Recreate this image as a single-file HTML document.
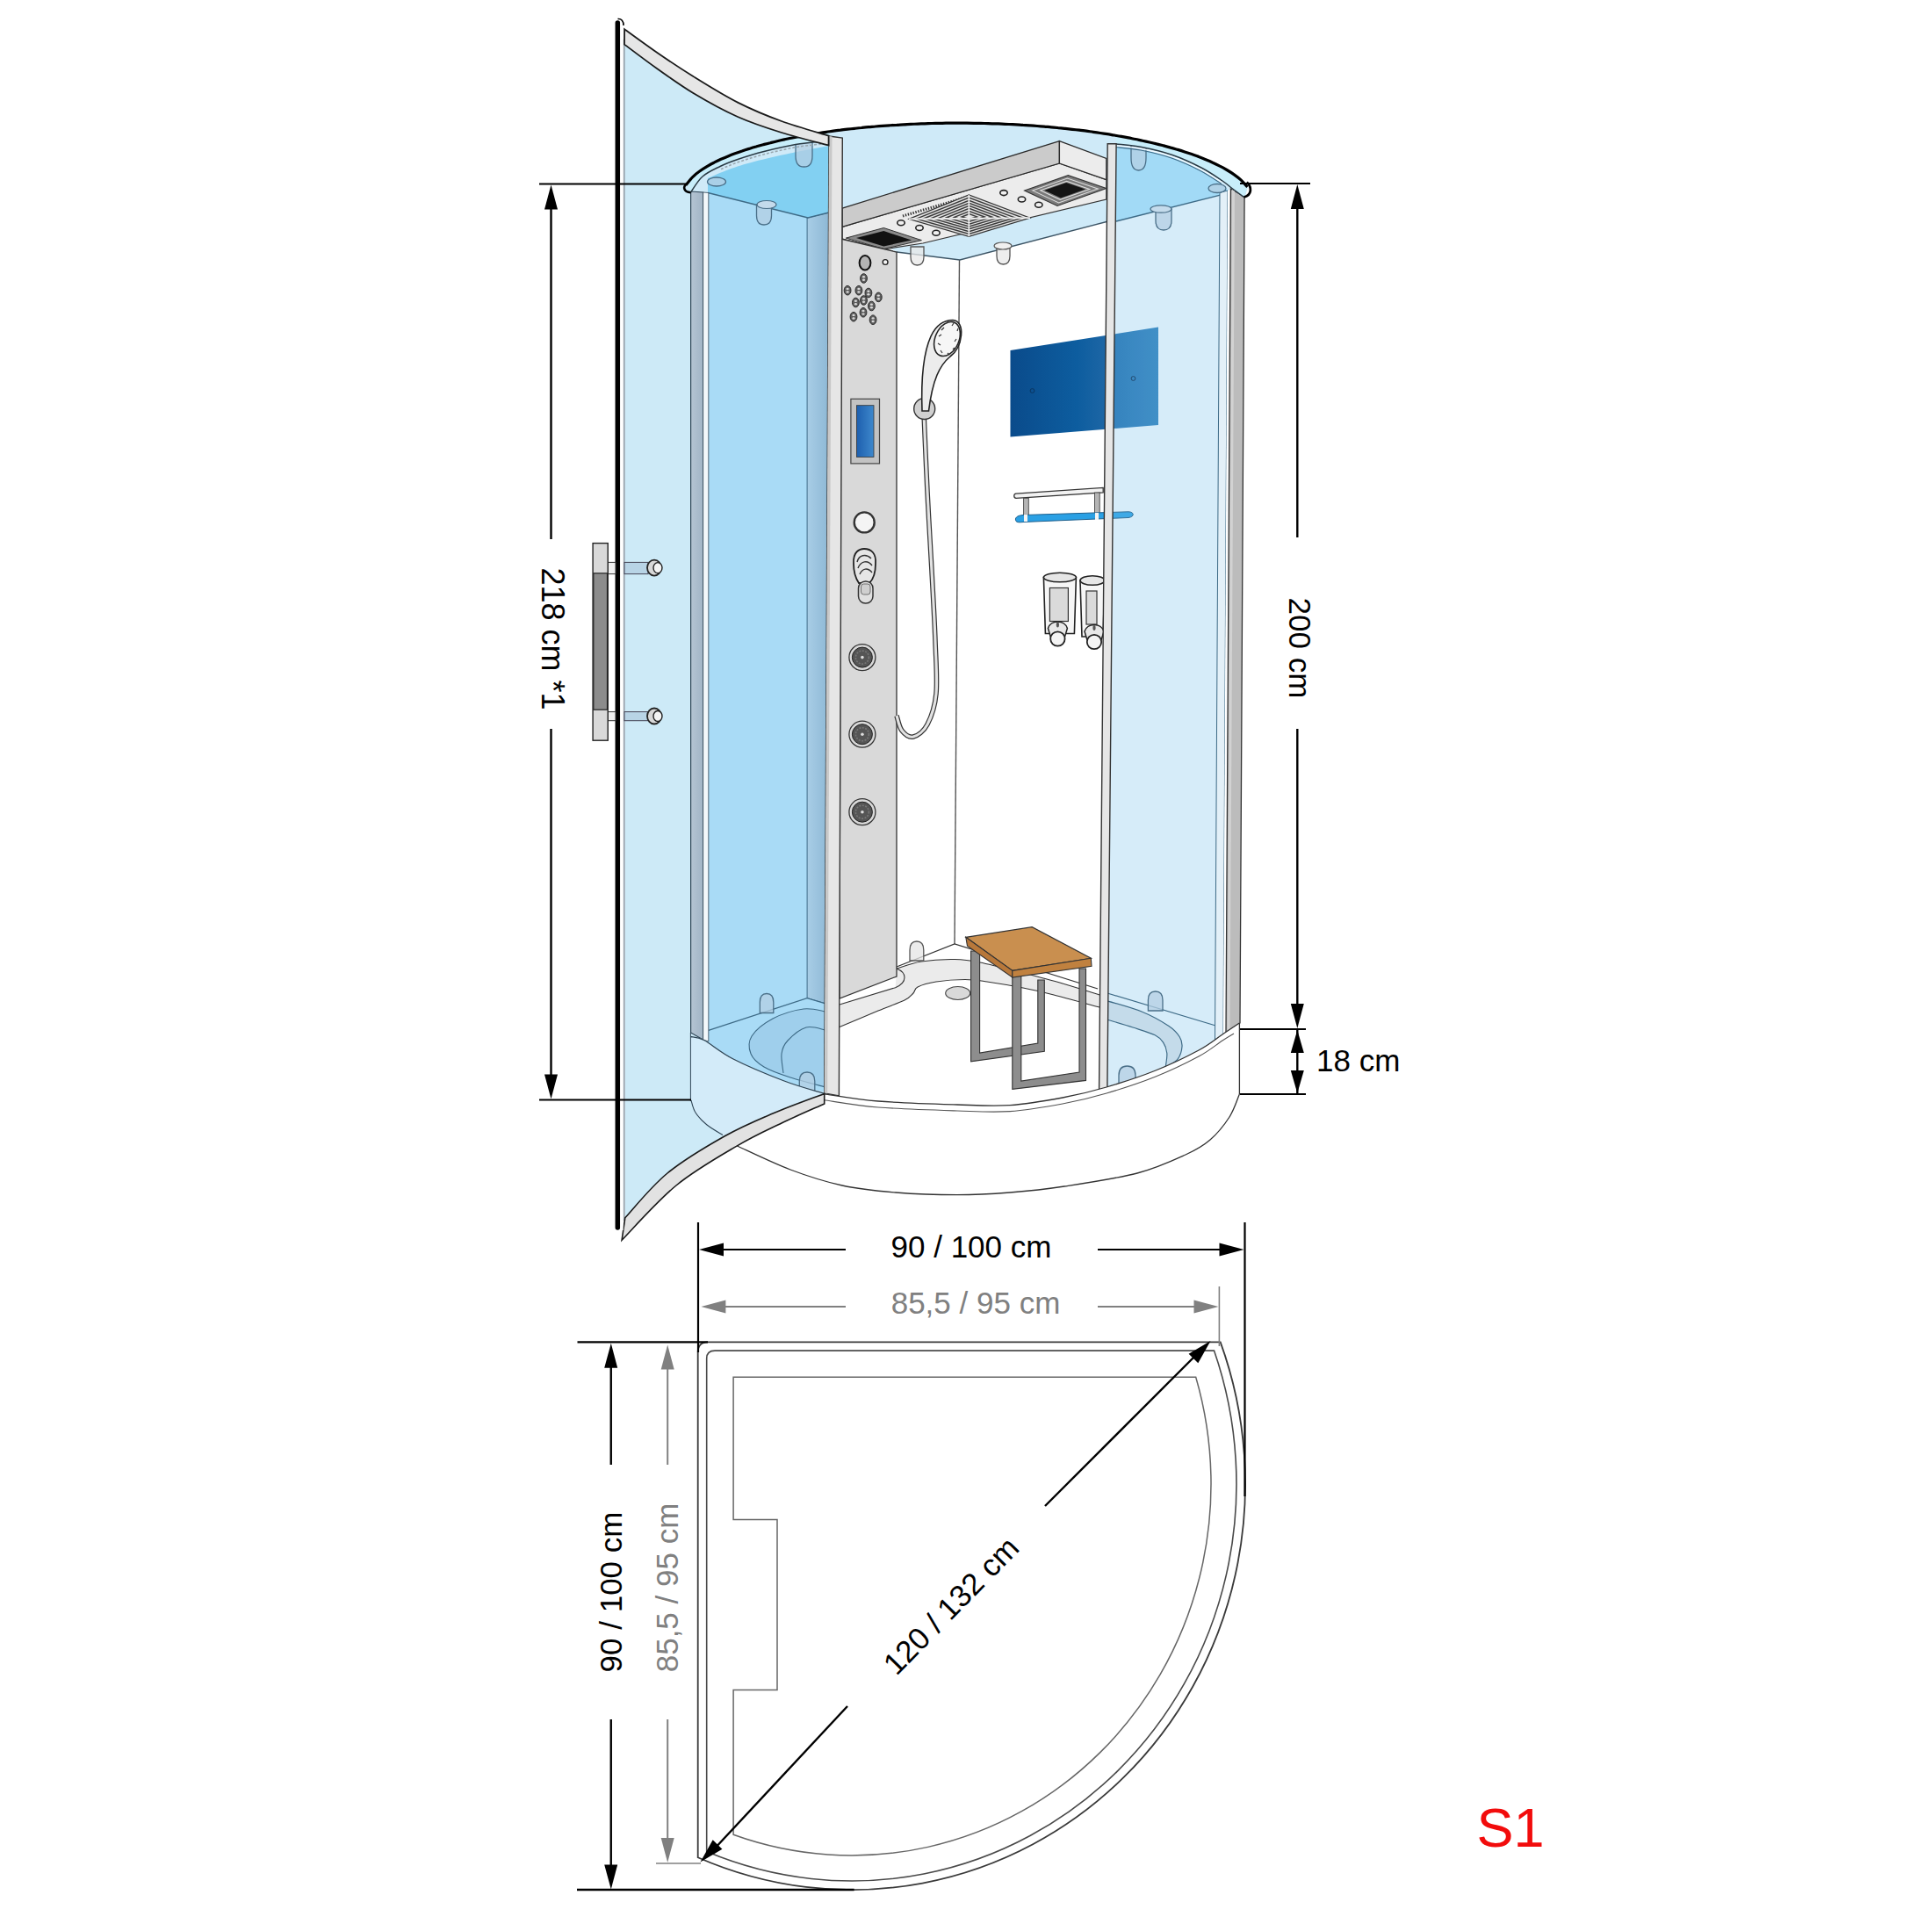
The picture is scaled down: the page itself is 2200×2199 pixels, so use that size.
<!DOCTYPE html>
<html><head><meta charset="utf-8"><style>
html,body{margin:0;padding:0;background:#fff;}
svg{display:block}
</style></head><body>
<svg width="2200" height="2199" viewBox="0 0 2200 2199">
<rect width="2200" height="2199" fill="#fff"/>
<path d="M794.7,2115.2 L794.7,1540 Q794.7,1528.4 806,1528.4 L1389.7,1528.4 A448,462 0 0 1 794.7,2115.2 Z" fill="none" stroke="#3a3a3a" stroke-width="1.8"/>
<path d="M804.7,2108.6 L804.7,1547 Q804.7,1538.1 814,1538.1 L1382.5,1538.1 A438,452 0 0 1 804.7,2108.6 Z" fill="none" stroke="#4a4a4a" stroke-width="1.6"/>
<path d="M835.1,1568.2 L1361.7,1568.2 A409,423 0 0 1 835.1,2089.3 L835.1,1924.5 L885,1924.5 L885,1730.5 L835.1,1730.5 Z" fill="none" stroke="#666" stroke-width="1.5"/>
<path d="M711.0,50.6 C717.2,55.2 734.9,68.8 748.0,78.0 C761.1,87.2 774.1,96.8 789.4,106.0 C804.7,115.2 823.2,125.5 840.0,133.0 C856.8,140.5 872.7,145.6 890.0,151.0 C907.3,156.4 934.7,163.1 943.6,165.5 L943.6,1245.4 C928.9,1249.2 899.0,1259.9 880.0,1268.0 C861.0,1276.1 844.9,1282.7 824.9,1294.0 C804.9,1305.3 778.9,1320.5 760.0,1336.0 C741.1,1351.5 719.8,1378.3 711.8,1386.8 Z" fill="#cdeaf7"/>
<rect x="709.5" y="45" width="2.2" height="1345" fill="#9aa6b0"/>
<path d="M781.0,210.7 C782.3,209.2 786.3,203.9 789.0,201.3 C791.7,198.6 794.3,196.7 797.0,194.8 C799.7,192.8 802.3,191.2 805.0,189.6 C807.7,188.0 810.3,186.5 813.0,185.2 C815.7,183.8 818.3,182.5 821.0,181.3 C823.7,180.1 826.3,179.0 829.0,177.9 C831.7,176.8 834.3,175.8 837.0,174.8 C839.7,173.8 842.3,172.9 845.0,172.0 C847.7,171.0 850.3,170.2 853.0,169.4 C855.7,168.5 858.3,167.7 861.0,167.0 C863.7,166.2 866.3,165.4 869.0,164.7 C871.7,164.0 874.3,163.3 877.0,162.7 C879.7,162.0 882.3,161.3 885.0,160.7 C887.7,160.1 890.3,159.5 893.0,158.9 C895.7,158.3 898.3,157.8 901.0,157.2 C903.7,156.7 906.3,156.2 909.0,155.7 C911.7,155.2 914.3,154.7 917.0,154.2 C919.7,153.7 922.3,153.3 925.0,152.8 C927.7,152.4 930.3,151.9 933.0,151.5 C935.7,151.1 938.3,150.7 941.0,150.3 C943.7,149.9 946.3,149.6 949.0,149.2 C951.7,148.8 954.3,148.5 957.0,148.2 C959.7,147.8 962.3,147.5 965.0,147.2 C967.7,146.9 970.3,146.6 973.0,146.3 C975.7,146.0 978.3,145.7 981.0,145.5 C983.7,145.2 986.3,144.9 989.0,144.7 C991.7,144.5 994.3,144.2 997.0,144.0 C999.7,143.8 1002.3,143.6 1005.0,143.4 C1007.7,143.2 1010.3,143.0 1013.0,142.8 C1015.7,142.6 1018.3,142.4 1021.0,142.3 C1023.7,142.1 1026.3,142.0 1029.0,141.8 C1031.7,141.7 1034.3,141.5 1037.0,141.4 C1039.7,141.3 1042.3,141.2 1045.0,141.1 C1047.7,141.0 1050.3,140.9 1053.0,140.8 C1055.7,140.7 1058.3,140.6 1061.0,140.5 C1063.7,140.5 1066.3,140.4 1069.0,140.4 C1071.7,140.3 1074.3,140.3 1077.0,140.2 C1079.7,140.2 1082.3,140.2 1085.0,140.2 C1087.7,140.1 1090.3,140.1 1093.0,140.1 C1095.7,140.1 1098.3,140.2 1101.0,140.2 C1103.7,140.2 1106.3,140.2 1109.0,140.3 C1111.7,140.3 1114.3,140.3 1117.0,140.4 C1119.7,140.5 1122.3,140.5 1125.0,140.6 C1127.7,140.7 1130.3,140.8 1133.0,140.8 C1135.7,140.9 1138.3,141.0 1141.0,141.1 C1143.7,141.3 1146.3,141.4 1149.0,141.5 C1151.7,141.6 1154.3,141.8 1157.0,141.9 C1159.7,142.1 1162.3,142.2 1165.0,142.4 C1167.7,142.5 1170.3,142.7 1173.0,142.9 C1175.7,143.1 1178.3,143.3 1181.0,143.5 C1183.7,143.7 1186.3,143.9 1189.0,144.1 C1191.7,144.3 1194.3,144.6 1197.0,144.8 C1199.7,145.0 1202.3,145.3 1205.0,145.6 C1207.7,145.8 1210.3,146.1 1213.0,146.4 C1215.7,146.7 1218.3,147.0 1221.0,147.3 C1223.7,147.6 1226.3,147.9 1229.0,148.2 C1231.7,148.5 1234.3,148.9 1237.0,149.2 C1239.7,149.6 1242.3,149.9 1245.0,150.3 C1247.7,150.7 1250.3,151.1 1253.0,151.5 C1255.7,151.9 1258.3,152.3 1261.0,152.7 C1263.7,153.1 1266.3,153.6 1269.0,154.0 C1271.7,154.5 1274.3,155.0 1277.0,155.4 C1279.7,155.9 1282.3,156.4 1285.0,156.9 C1287.7,157.4 1290.3,158.0 1293.0,158.5 C1295.7,159.1 1298.3,159.6 1301.0,160.2 C1303.7,160.8 1306.3,161.4 1309.0,162.0 C1311.7,162.6 1314.3,163.2 1317.0,163.9 C1319.7,164.5 1322.3,165.2 1325.0,165.9 C1327.7,166.6 1330.3,167.3 1333.0,168.1 C1335.7,168.8 1338.3,169.6 1341.0,170.4 C1343.7,171.2 1346.3,172.0 1349.0,172.9 C1351.7,173.8 1354.3,174.7 1357.0,175.6 C1359.7,176.5 1362.3,177.5 1365.0,178.5 C1367.7,179.5 1370.3,180.6 1373.0,181.7 C1375.7,182.8 1378.3,183.9 1381.0,185.2 C1383.7,186.4 1386.3,187.7 1389.0,189.1 C1391.7,190.4 1394.3,191.9 1397.0,193.5 C1399.7,195.1 1402.3,196.7 1405.0,198.6 C1407.7,200.5 1410.4,202.5 1413.0,204.9 C1415.6,207.3 1419.2,211.6 1420.5,212.9 L1418,225 L1402,222 L1271,252 L1093,296 L1021,287 L944,242 L806,220 L787,218 Z" fill="#cfeaf8"/>
<polygon points="1021,287 1093,296 1262,252 1258,1150 1093,1075 1021,1101" fill="#ffffff"/>
<line x1="1092.5" y1="296" x2="1087" y2="1075" stroke="#555" stroke-width="1.4"/>
<polyline points="1021,287 1093,296 1262,252" fill="none" stroke="#3d5566" stroke-width="1.4"/>
<path d="M956,1136 L1021,1101 L1087,1075 L1258,1127 L1262,1240 C1246.7,1242.3 1198.8,1251.2 1170.0,1254.0 C1141.2,1256.8 1117.3,1257.2 1089.0,1257.0 C1060.7,1256.8 1024.8,1255.0 1000.0,1253.0 C975.2,1251.0 950.0,1246.3 940.0,1245.0 Z" fill="#fff" stroke="none"/>
<polyline points="1021,1101 1087,1075 1250,1126" fill="none" stroke="#333" stroke-width="1.3"/>
<path d="M956,1144 L1019.6,1124.7 L1021,1103 C1025.7,1101.7 1038.0,1096.8 1049.0,1095.0 C1060.0,1093.2 1075.8,1092.3 1087.0,1092.5 C1098.2,1092.7 1103.0,1093.4 1116.0,1096.0 C1129.0,1098.6 1149.3,1104.0 1165.0,1108.0 C1180.7,1112.0 1195.5,1115.8 1210.0,1120.0 C1224.5,1124.2 1245.0,1130.8 1252.0,1133.0 L1252,1147 C1243.3,1144.7 1214.5,1136.7 1200.0,1133.0 C1185.5,1129.3 1177.7,1127.5 1165.0,1125.0 C1152.3,1122.5 1135.0,1119.6 1124.0,1118.0 C1113.0,1116.4 1108.7,1115.5 1099.0,1115.5 C1089.3,1115.5 1075.0,1116.6 1066.0,1118.0 C1057.0,1119.4 1049.3,1121.8 1045.0,1124.0 C1040.7,1126.2 1042.5,1128.5 1040.0,1131.0 C1037.5,1133.5 1036.7,1135.7 1030.0,1139.0 C1023.3,1142.3 1012.3,1145.9 1000.0,1151.0 C987.7,1156.1 963.3,1166.4 956.0,1169.5 Z" fill="#ebebeb" stroke="none"/>
<path d="M1021.0,1103.0 C1025.7,1101.7 1038.0,1096.8 1049.0,1095.0 C1060.0,1093.2 1075.8,1092.3 1087.0,1092.5 C1098.2,1092.7 1103.0,1093.4 1116.0,1096.0 C1129.0,1098.6 1149.3,1104.0 1165.0,1108.0 C1180.7,1112.0 1195.5,1115.8 1210.0,1120.0 C1224.5,1124.2 1245.0,1130.8 1252.0,1133.0" fill="none" stroke="#333" stroke-width="1.1"/>
<path d="M1252.0,1147.0 C1243.3,1144.7 1214.5,1136.7 1200.0,1133.0 C1185.5,1129.3 1177.7,1127.5 1165.0,1125.0 C1152.3,1122.5 1135.0,1119.6 1124.0,1118.0 C1113.0,1116.4 1108.7,1115.5 1099.0,1115.5 C1089.3,1115.5 1075.0,1116.6 1066.0,1118.0 C1057.0,1119.4 1049.3,1121.8 1045.0,1124.0 C1040.7,1126.2 1042.5,1128.5 1040.0,1131.0 C1037.5,1133.5 1036.7,1135.7 1030.0,1139.0 C1023.3,1142.3 1012.3,1145.9 1000.0,1151.0 C987.7,1156.1 963.3,1166.4 956.0,1169.5" fill="none" stroke="#333" stroke-width="1.1"/>
<path d="M956,1144 L1019.6,1124.7 C1026,1122 1030,1118 1030,1113 C1030,1108 1026,1105 1021,1103" fill="none" stroke="#333" stroke-width="1.1"/>
<ellipse cx="1090.7" cy="1131" rx="14" ry="7.5" fill="#d9d9d9" stroke="#444" stroke-width="1.1"/>
<polygon points="959.1,258.3 1206.4,186 1259.8,204.7 1259.8,227 1051,277 1006,284 959.1,272" fill="#ececec" stroke="#333" stroke-width="1.2"/>
<polygon points="959.1,237.1 1206.4,160.6 1206.4,186 959.1,258.3" fill="#cbcbcb" stroke="#2a2a2a" stroke-width="1.3"/>
<polygon points="1206.4,160.6 1259.8,180.4 1259.8,204.7 1206.4,186" fill="#ececec" stroke="#2a2a2a" stroke-width="1.3"/>
<line x1="1028" y1="246" x2="1104" y2="223.5" stroke="#333" stroke-width="3" stroke-dasharray="1.4,1.6"/>
<polygon points="963.3,271.1 1006.3,259.5 1049.4,273.6 1006.3,283.5" fill="#8a8a8a" stroke="#333" stroke-width="1"/>
<polygon points="975,271 1006.3,263 1038,273.5 1006.3,280.5" fill="#111"/>
<polygon points="1035.0,249.4 1103.3,222.0 1172.9,248.1 1103.3,269.3" fill="#e4e4e4" stroke="#333" stroke-width="1.2"/>
<polygon points="1043.6,249.1 1103.4,225.1 1164.3,247.9 1103.4,266.5" fill="none" stroke="#3a3a3a" stroke-width="1.5"/>
<polygon points="1052.2,248.7 1103.4,228.2 1155.6,247.8 1103.4,263.6" fill="none" stroke="#3a3a3a" stroke-width="1.5"/>
<polygon points="1060.8,248.4 1103.5,231.3 1147.0,247.6 1103.5,260.8" fill="none" stroke="#3a3a3a" stroke-width="1.5"/>
<polygon points="1069.4,248.1 1103.5,234.3 1138.3,247.4 1103.5,258.0" fill="none" stroke="#3a3a3a" stroke-width="1.5"/>
<polygon points="1078.0,247.7 1103.6,237.4 1129.7,247.2 1103.6,255.2" fill="none" stroke="#3a3a3a" stroke-width="1.5"/>
<polygon points="1086.6,247.4 1103.7,240.5 1121.1,247.0 1103.7,252.3" fill="none" stroke="#3a3a3a" stroke-width="1.5"/>
<polygon points="1095.2,247.0 1103.7,243.6 1112.4,246.9 1103.7,249.5" fill="none" stroke="#3a3a3a" stroke-width="1.5"/>
<line x1="1035" y1="249.4" x2="1172.9" y2="248.1" stroke="#f0f0f0" stroke-width="1.6"/>
<line x1="1103.3" y1="222" x2="1103.3" y2="269.3" stroke="#f0f0f0" stroke-width="1.6"/>
<polygon points="1166.6,217.0 1216.3,199.7 1259.8,214.6 1204.0,234.5" fill="#7a7a7a" stroke="#333" stroke-width="1.1"/>
<polygon points="1175.7,216.9 1215.4,203.1 1250.2,215.0 1205.6,230.9" fill="none" stroke="#ddd" stroke-width="1.1"/>
<polygon points="1184.8,216.8 1214.6,206.4 1240.7,215.4 1207.2,227.3" fill="none" stroke="#ddd" stroke-width="1.1"/>
<polygon points="1193.8,216.7 1213.7,209.8 1231.1,215.7 1208.8,223.7" fill="none" stroke="#ddd" stroke-width="1.1"/>
<polygon points="1202.9,216.6 1212.9,213.1 1221.6,216.1 1210.4,220.1" fill="none" stroke="#ddd" stroke-width="1.1"/>
<polygon points="1189.3,216.8 1214.2,208.1 1235.9,215.6 1208.0,225.5" fill="#151515"/>
<ellipse cx="1026" cy="253.7" rx="4.2" ry="3" fill="#f0f0f0" stroke="#222" stroke-width="1.6"/>
<ellipse cx="1047" cy="259.5" rx="4.2" ry="3" fill="#f0f0f0" stroke="#222" stroke-width="1.6"/>
<ellipse cx="1066" cy="265.3" rx="4.2" ry="3" fill="#f0f0f0" stroke="#222" stroke-width="1.6"/>
<ellipse cx="1143" cy="219.6" rx="4.2" ry="3" fill="#f0f0f0" stroke="#222" stroke-width="1.6"/>
<ellipse cx="1163.5" cy="227" rx="4.2" ry="3" fill="#f0f0f0" stroke="#222" stroke-width="1.6"/>
<ellipse cx="1182.8" cy="233.2" rx="4.2" ry="3" fill="#f0f0f0" stroke="#222" stroke-width="1.6"/>
<polygon points="957.7,272 1021,287 1021,1112 956,1137" fill="#d9d9d9" stroke="#333" stroke-width="1.3"/>
<ellipse cx="985" cy="299.3" rx="6.4" ry="8.2" fill="#b4b4b4" stroke="#111" stroke-width="2"/>
<circle cx="1008.1" cy="298.5" r="2.9" fill="#f4f4f4" stroke="#222" stroke-width="1.4"/>
<ellipse cx="983.5" cy="317" rx="3.9" ry="5.3" fill="#5e5e5e" stroke="#2a2a2a" stroke-width="1"/>
<ellipse cx="983.5" cy="315.2" rx="1.6" ry="1.2" fill="#d8d8d8"/>
<ellipse cx="983.5" cy="318.8" rx="1.6" ry="1.2" fill="#d8d8d8"/>
<ellipse cx="965.1" cy="330.7" rx="3.9" ry="5.3" fill="#5e5e5e" stroke="#2a2a2a" stroke-width="1"/>
<ellipse cx="965.1" cy="328.9" rx="1.6" ry="1.2" fill="#d8d8d8"/>
<ellipse cx="965.1" cy="332.5" rx="1.6" ry="1.2" fill="#d8d8d8"/>
<ellipse cx="977.9" cy="330.7" rx="3.9" ry="5.3" fill="#5e5e5e" stroke="#2a2a2a" stroke-width="1"/>
<ellipse cx="977.9" cy="328.9" rx="1.6" ry="1.2" fill="#d8d8d8"/>
<ellipse cx="977.9" cy="332.5" rx="1.6" ry="1.2" fill="#d8d8d8"/>
<ellipse cx="988.9" cy="333.5" rx="3.9" ry="5.3" fill="#5e5e5e" stroke="#2a2a2a" stroke-width="1"/>
<ellipse cx="988.9" cy="331.7" rx="1.6" ry="1.2" fill="#d8d8d8"/>
<ellipse cx="988.9" cy="335.3" rx="1.6" ry="1.2" fill="#d8d8d8"/>
<ellipse cx="1000.3" cy="338.4" rx="3.9" ry="5.3" fill="#5e5e5e" stroke="#2a2a2a" stroke-width="1"/>
<ellipse cx="1000.3" cy="336.6" rx="1.6" ry="1.2" fill="#d8d8d8"/>
<ellipse cx="1000.3" cy="340.2" rx="1.6" ry="1.2" fill="#d8d8d8"/>
<ellipse cx="974.4" cy="344.5" rx="3.9" ry="5.3" fill="#5e5e5e" stroke="#2a2a2a" stroke-width="1"/>
<ellipse cx="974.4" cy="342.7" rx="1.6" ry="1.2" fill="#d8d8d8"/>
<ellipse cx="974.4" cy="346.3" rx="1.6" ry="1.2" fill="#d8d8d8"/>
<ellipse cx="983.5" cy="342" rx="3.9" ry="5.3" fill="#5e5e5e" stroke="#2a2a2a" stroke-width="1"/>
<ellipse cx="983.5" cy="340.2" rx="1.6" ry="1.2" fill="#d8d8d8"/>
<ellipse cx="983.5" cy="343.8" rx="1.6" ry="1.2" fill="#d8d8d8"/>
<ellipse cx="992.4" cy="348.5" rx="3.9" ry="5.3" fill="#5e5e5e" stroke="#2a2a2a" stroke-width="1"/>
<ellipse cx="992.4" cy="346.7" rx="1.6" ry="1.2" fill="#d8d8d8"/>
<ellipse cx="992.4" cy="350.3" rx="1.6" ry="1.2" fill="#d8d8d8"/>
<ellipse cx="983" cy="355.8" rx="3.9" ry="5.3" fill="#5e5e5e" stroke="#2a2a2a" stroke-width="1"/>
<ellipse cx="983" cy="354.0" rx="1.6" ry="1.2" fill="#d8d8d8"/>
<ellipse cx="983" cy="357.6" rx="1.6" ry="1.2" fill="#d8d8d8"/>
<ellipse cx="972" cy="360.7" rx="3.9" ry="5.3" fill="#5e5e5e" stroke="#2a2a2a" stroke-width="1"/>
<ellipse cx="972" cy="358.9" rx="1.6" ry="1.2" fill="#d8d8d8"/>
<ellipse cx="972" cy="362.5" rx="1.6" ry="1.2" fill="#d8d8d8"/>
<ellipse cx="994.1" cy="364.2" rx="3.9" ry="5.3" fill="#5e5e5e" stroke="#2a2a2a" stroke-width="1"/>
<ellipse cx="994.1" cy="362.4" rx="1.6" ry="1.2" fill="#d8d8d8"/>
<ellipse cx="994.1" cy="366.0" rx="1.6" ry="1.2" fill="#d8d8d8"/>
<rect x="968.9" y="454.3" width="32.6" height="73.6" fill="#c3c3c3" stroke="#444" stroke-width="1.2"/>
<defs><linearGradient id="disp" x1="0" x2="1"><stop offset="0" stop-color="#1d5fae"/><stop offset="1" stop-color="#3e88cc"/></linearGradient></defs>
<rect x="975.4" y="461.7" width="19.6" height="58.7" fill="url(#disp)" stroke="#333" stroke-width="0.8"/>
<circle cx="984.2" cy="594.9" r="11.5" fill="#f4f4f4" stroke="#333" stroke-width="2.4"/>
<path d="M972,642 C971,628 979,625 984,625 C992,625 998,630 997,642 C997,652 994,660 990,664 L978,664 C974,658 972,650 972,642 Z" fill="#e6e6e6" stroke="#222" stroke-width="1.8"/>
<path d="M976,640 C978,632 986,630 992,636 M977,647 C980,639 988,637 993,644 M979,654 C982,647 988,646 993,652" fill="none" stroke="#333" stroke-width="1.4"/>
<rect x="977.5" y="662" width="16.5" height="25" rx="8" fill="#e0e0e0" stroke="#333" stroke-width="1.5"/>
<rect x="980.5" y="665" width="10.5" height="12" rx="3" fill="#cfcfcf" stroke="#555" stroke-width="0.8"/>
<circle cx="981.9" cy="748.6" r="15" fill="none" stroke="#333" stroke-width="1.3"/>
<circle cx="981.9" cy="748.6" r="11.5" fill="#555" stroke="#222" stroke-width="1"/>
<circle cx="981.9" cy="748.6" r="7.5" fill="none" stroke="#777" stroke-width="1.6" stroke-dasharray="2,1.5"/>
<circle cx="981.9" cy="748.6" r="1.8" fill="#ddd"/>
<circle cx="981.9" cy="836.2" r="15" fill="none" stroke="#333" stroke-width="1.3"/>
<circle cx="981.9" cy="836.2" r="11.5" fill="#555" stroke="#222" stroke-width="1"/>
<circle cx="981.9" cy="836.2" r="7.5" fill="none" stroke="#777" stroke-width="1.6" stroke-dasharray="2,1.5"/>
<circle cx="981.9" cy="836.2" r="1.8" fill="#ddd"/>
<circle cx="981.9" cy="924.7" r="15" fill="none" stroke="#333" stroke-width="1.3"/>
<circle cx="981.9" cy="924.7" r="11.5" fill="#555" stroke="#222" stroke-width="1"/>
<circle cx="981.9" cy="924.7" r="7.5" fill="none" stroke="#777" stroke-width="1.6" stroke-dasharray="2,1.5"/>
<circle cx="981.9" cy="924.7" r="1.8" fill="#ddd"/>
<path d="M1052.0,470.0 C1052.7,485.0 1054.5,530.0 1056.0,560.0 C1057.5,590.0 1059.5,621.7 1061.0,650.0 C1062.5,678.3 1064.2,706.7 1065.0,730.0 C1065.8,753.3 1067.5,774.2 1066.0,790.0 C1064.5,805.8 1060.3,816.8 1056.0,825.0 C1051.7,833.2 1044.8,837.8 1040.0,839.0 C1035.2,840.2 1030.2,836.0 1027.0,832.0 C1023.8,828.0 1022.0,817.8 1021.0,815.0" fill="none" stroke="#333" stroke-width="5.6"/>
<path d="M1052.0,470.0 C1052.7,485.0 1054.5,530.0 1056.0,560.0 C1057.5,590.0 1059.5,621.7 1061.0,650.0 C1062.5,678.3 1064.2,706.7 1065.0,730.0 C1065.8,753.3 1067.5,774.2 1066.0,790.0 C1064.5,805.8 1060.3,816.8 1056.0,825.0 C1051.7,833.2 1044.8,837.8 1040.0,839.0 C1035.2,840.2 1030.2,836.0 1027.0,832.0 C1023.8,828.0 1022.0,817.8 1021.0,815.0" fill="none" stroke="#e2e2e2" stroke-width="3.2"/>
<circle cx="1052.7" cy="465.5" r="12" fill="#d0d0d0" stroke="#333" stroke-width="1.4"/>
<path d="M1050,468 C1049,440 1050,405 1060,383 C1066,370 1074,364.5 1085,364.5 C1092,365 1095.5,372 1094.5,382 C1093.5,392 1090,400 1082,406 C1070,416 1062,432 1057.5,468 Z" fill="#ececec" stroke="#222" stroke-width="1.6"/>
<ellipse cx="1078.5" cy="386" rx="13.5" ry="20.5" transform="rotate(24 1078.5 386)" fill="#f6f6f6" stroke="#222" stroke-width="1.6"/>
<line x1="1072" y1="376" x2="1075" y2="373" stroke="#333" stroke-width="1.2"/>
<line x1="1069" y1="383" x2="1072" y2="381" stroke="#333" stroke-width="1.2"/>
<line x1="1068" y1="391" x2="1071" y2="393" stroke="#333" stroke-width="1.2"/>
<line x1="1071" y1="399" x2="1073" y2="402" stroke="#333" stroke-width="1.2"/>
<line x1="1079" y1="402" x2="1081" y2="404" stroke="#333" stroke-width="1.2"/>
<line x1="1085" y1="398" x2="1087" y2="396" stroke="#333" stroke-width="1.2"/>
<line x1="1087" y1="389" x2="1089" y2="386" stroke="#333" stroke-width="1.2"/>
<line x1="1084" y1="371" x2="1086" y2="368" stroke="#333" stroke-width="1.2"/>
<line x1="1078" y1="368" x2="1080" y2="366" stroke="#333" stroke-width="1.2"/>
<line x1="1090" y1="377" x2="1091" y2="374" stroke="#333" stroke-width="1.2"/>
<path d="M1271,252 L1398.5,219.8 L1393.4,1178 C1388.7,1181.0 1377.9,1189.2 1365.0,1196.0 C1352.1,1202.8 1333.3,1212.0 1316.0,1219.0 C1298.7,1226.0 1270.2,1234.8 1261.0,1238.0 Z" fill="#d6ecfa"/>
<defs><linearGradient id="bp" x1="0" x2="1"><stop offset="0" stop-color="#0a4b8b"/><stop offset="0.45" stop-color="#0d5d9f"/><stop offset="0.64" stop-color="#1d66a5"/><stop offset="0.68" stop-color="#1f74b6"/><stop offset="1" stop-color="#2d83c1"/></linearGradient></defs>
<polygon points="1150.5,399 1319,372.5 1319,484 1150.5,497.5" fill="url(#bp)"/>
<circle cx="1175.5" cy="445" r="2.4" fill="none" stroke="#0a3560" stroke-width="1"/>
<circle cx="1290.5" cy="431" r="2.4" fill="none" stroke="#0a3560" stroke-width="1"/>
<path d="M1157,562.2 L1256.2,555.4 L1256.2,561 L1157,567.3 C1154,567 1154,562.5 1157,562.2 Z" fill="#f2f2f2" stroke="#333" stroke-width="1.3"/>
<rect x="1165.6" y="567.3" width="5.7" height="24" fill="#b5b5b5" stroke="#444" stroke-width="0.9"/>
<rect x="1246.5" y="561" width="5.7" height="27" fill="#b5b5b5" stroke="#444" stroke-width="0.9"/>
<path d="M1157,593.5 C1155,590 1158,587 1165,586.5 L1285,582.8 C1292,583 1292,588.5 1285,589.5 L1165,594.5 C1161,595 1158,595 1157,593.5 Z" fill="#2aa0e4" stroke="#1d5f8c" stroke-width="1"/>
<rect x="1166" y="586" width="4" height="8" fill="#f4f4f4"/>
<rect x="1247" y="584" width="4" height="8" fill="#f4f4f4"/>
<path d="M1188.4,657.5 L1190.4,721.5 L1223.4,721.5 L1225.4,657.5 Z" fill="#f6f6f6" stroke="#222" stroke-width="1.6"/>
<ellipse cx="1206.9" cy="657.5" rx="18.5" ry="5.3" fill="#e6e6e6" stroke="#222" stroke-width="1.6"/>
<rect x="1195.4" y="669.5" width="21" height="38" fill="#dadada" stroke="#333" stroke-width="1.2"/>
<path d="M1193.4,715.5 C1196.4,705.5 1212.4,705.5 1215.4,715.5 L1212.4,725.5 L1196.4,725.5 Z" fill="#e8e8e8" stroke="#222" stroke-width="1.5"/>
<ellipse cx="1204.4" cy="711.5" rx="1.6" ry="3" fill="#555"/>
<circle cx="1204.4" cy="727.5" r="8.2" fill="#f4f4f4" stroke="#222" stroke-width="1.8"/>
<path d="M1230,661 L1232,725 L1256,725 L1258,661 Z" fill="#f6f6f6" stroke="#222" stroke-width="1.6"/>
<ellipse cx="1244.0" cy="661" rx="14.0" ry="5.3" fill="#e6e6e6" stroke="#222" stroke-width="1.6"/>
<rect x="1237" y="673" width="12" height="38" fill="#dadada" stroke="#333" stroke-width="1.2"/>
<path d="M1235,719 C1238,709 1254,709 1257,719 L1254,729 L1238,729 Z" fill="#e8e8e8" stroke="#222" stroke-width="1.5"/>
<ellipse cx="1246" cy="715" rx="1.6" ry="3" fill="#555"/>
<circle cx="1246" cy="731" r="8.2" fill="#f4f4f4" stroke="#222" stroke-width="1.8"/>
<path d="M1266,252 L1398.5,219.8 L1393.4,1178 C1388.7,1181.0 1377.9,1189.2 1365.0,1196.0 C1352.1,1202.8 1333.3,1212.0 1316.0,1219.0 C1298.7,1226.0 1270.2,1234.8 1261.0,1238.0 Z" fill="#d6ecfa" opacity="0.12"/>
<polygon points="1105.6,1083 1115.6,1083 1115.6,1199 1181.8,1188 1181.8,1116 1189.3,1116 1189.3,1197.3 1105.6,1208.9" fill="#8d8d8d" stroke="#333" stroke-width="1.1"/>
<polygon points="1152.8,1110 1162.8,1110 1162.8,1231 1229,1221 1229,1103 1236.5,1103 1236.5,1230.4 1152.8,1240.4" fill="#8d8d8d" stroke="#333" stroke-width="1.1"/>
<polygon points="1099.8,1067.3 1175.2,1055.7 1242.3,1091.3 1152.8,1105.4" fill="#c98f4f" stroke="#333" stroke-width="1.2"/>
<polygon points="1099.8,1067.3 1152.8,1105.4 1152.8,1113 1101.5,1077.2" fill="#b8783a" stroke="#333" stroke-width="1.1"/>
<polygon points="1152.8,1105.4 1242.3,1091.3 1243,1100.4 1152.8,1113" fill="#c0813f" stroke="#333" stroke-width="1.1"/>
<defs><linearGradient id="lf" x1="0" x2="1"><stop offset="0" stop-color="#b4c4d2"/><stop offset="1" stop-color="#a2b5c6"/></linearGradient><linearGradient id="ds" x1="0" x2="1"><stop offset="0" stop-color="#a8cde6"/><stop offset="1" stop-color="#8db8d5"/></linearGradient></defs>
<polygon points="806.8,219.5 919.1,248 919.1,1136.6 806.8,1173.4" fill="#a9dbf6"/>
<polygon points="919.1,248 944,242 940,1142.9 919.1,1136.6" fill="url(#ds)" stroke="#3d6a86" stroke-width="1"/>
<path d="M806.0,203.0 C810.0,201.3 821.2,196.2 830.0,193.0 C838.8,189.8 847.3,187.1 859.0,184.0 C870.7,180.9 885.8,177.5 900.0,174.5 C914.2,171.5 936.7,167.4 944.0,166.0 L944,242 L920,248 L806,219.5 Z" fill="#82d0f2"/>
<polyline points="806,219.5 920,248 944,242" fill="none" stroke="#3d6a86" stroke-width="1.3"/>
<path d="M806.8,1173.4 L919.1,1136.6 L940,1142.9 L940,1244 C932.2,1241.8 910.5,1237.3 893.0,1231.0 C875.5,1224.7 850.3,1213.8 835.0,1206.0 C819.7,1198.2 806.7,1187.7 801.0,1184.0 Z" fill="#a9dbf6"/>
<polyline points="806.8,1173.4 919.1,1136.6 940,1142.9" fill="none" stroke="#3d6a86" stroke-width="1.2"/>
<path d="M940.0,1152.0 C935.8,1151.5 925.0,1147.7 915.0,1149.0 C905.0,1150.3 889.8,1154.8 880.0,1160.0 C870.2,1165.2 860.2,1173.3 856.0,1180.0 C851.8,1186.7 852.7,1194.2 855.0,1200.0 C857.3,1205.8 862.5,1210.5 870.0,1215.0 C877.5,1219.5 888.3,1223.2 900.0,1227.0 C911.7,1230.8 933.3,1236.2 940.0,1238.0" fill="#9fcfec" stroke="#3d6a86" stroke-width="1.1"/>
<path d="M940.0,1173.0 C936.3,1172.5 925.2,1168.0 918.0,1170.0 C910.8,1172.0 901.7,1180.0 897.0,1185.0 C892.3,1190.0 890.8,1193.8 890.0,1200.0 C889.2,1206.2 891.7,1218.3 892.0,1222.0" fill="none" stroke="#3d6a86" stroke-width="1.1"/>
<polygon points="786.6,218 800.6,219 800.6,1184 786.6,1176" fill="url(#lf)" stroke="#2f4555" stroke-width="1.2"/>
<polygon points="800.6,219 806.8,219.5 806.8,1186 800.6,1184" fill="#f3f8fb" stroke="#2f4555" stroke-width="0.8"/>
<path d="M1271.0,166.0 C1275.8,166.7 1288.5,167.5 1300.0,170.0 C1311.5,172.5 1328.0,176.5 1340.0,181.0 C1352.0,185.5 1362.2,191.1 1372.0,197.0 C1381.8,202.9 1394.1,213.3 1398.5,216.6 L1398.5,219.8 L1271,252 Z" fill="#a2daf6"/>
<line x1="1271" y1="252" x2="1398.5" y2="219.8" stroke="#3d6a86" stroke-width="1.3"/>
<polyline points="1261,1131 1391,1170" fill="none" stroke="#3d6a86" stroke-width="1.2"/>
<path d="M1260.3,1139.6 C1266.9,1141.7 1288.2,1147.2 1300.0,1152.0 C1311.8,1156.8 1323.8,1163.7 1331.0,1168.5 C1338.2,1173.3 1340.7,1176.8 1343.2,1180.7 C1345.7,1184.6 1346.3,1187.6 1346.0,1191.8 C1345.7,1196.0 1344.0,1202.1 1341.3,1205.8 C1338.6,1209.5 1332.0,1212.8 1330.1,1214.2 L1327.4,1214.2 C1327.6,1211.7 1329.3,1203.8 1328.8,1199.3 C1328.3,1194.8 1326.9,1190.6 1324.6,1187.2 C1322.3,1183.8 1321.0,1181.7 1315.2,1178.8 C1309.4,1175.9 1299.2,1173.0 1290.0,1170.0 C1280.8,1167.0 1265.2,1162.5 1260.3,1161.0 Z" fill="#c4dbea"/>
<path d="M1260.3,1139.6 C1266.9,1141.7 1288.2,1147.2 1300.0,1152.0 C1311.8,1156.8 1323.8,1163.7 1331.0,1168.5 C1338.2,1173.3 1340.7,1176.8 1343.2,1180.7 C1345.7,1184.6 1346.3,1187.6 1346.0,1191.8 C1345.7,1196.0 1344.0,1202.1 1341.3,1205.8 C1338.6,1209.5 1332.0,1212.8 1330.1,1214.2" fill="none" stroke="#3d6a86" stroke-width="1.2"/>
<path d="M1260.3,1161.0 C1265.2,1162.5 1280.8,1167.0 1290.0,1170.0 C1299.2,1173.0 1309.4,1175.9 1315.2,1178.8 C1321.0,1181.7 1322.3,1183.8 1324.6,1187.2 C1326.9,1190.6 1328.3,1194.8 1328.8,1199.3 C1329.3,1203.8 1327.6,1211.7 1327.4,1214.2" fill="none" stroke="#3d6a86" stroke-width="1.2"/>
<polygon points="1389,219.5 1398,217 1393,1178 1383.5,1184" fill="#e3f0f8" stroke="#3d6a86" stroke-width="1"/>
<polygon points="1398,217 1401.4,215 1396,1176 1393,1178" fill="#ffffff"/>
<polygon points="1401.4,215 1417.1,224 1412,1165 1396,1176" fill="#bcbcbc" stroke="#333" stroke-width="1.3"/>
<polygon points="1403,216 1406,217.5 1400.5,1173 1397.5,1175" fill="#d2d2d2"/>
<path d="M906,162 L906,177.4 Q906,190.0 915.5,190.0 Q925,190.0 925,177.4 L925,162 Z" fill="#b4cfe3" fill-opacity="0.75" stroke="#4a6f88" stroke-width="1.3"/>
<ellipse cx="816" cy="207" rx="10.5" ry="5" fill="#b4cfe3" fill-opacity="0.8" stroke="#4a6f88" stroke-width="1.3"/>
<path d="M861.5,233 L861.5,245.7 Q861.5,256.0 870.0,256.0 Q878.5,256.0 878.5,245.7 L878.5,233 Z" fill="#b4cfe3" fill-opacity="0.75" stroke="#4a6f88" stroke-width="1.3"/>
<ellipse cx="873" cy="233" rx="11" ry="4.5" fill="#c4dbec" stroke="#4a6f88" stroke-width="1.2"/>
<path d="M1037,281 L1037,292.6 Q1037,302.0 1044.5,302.0 Q1052,302.0 1052,292.6 L1052,281 Z" fill="#e8e8e8" fill-opacity="0.75" stroke="#555" stroke-width="1.3"/>
<path d="M1135,280 L1135,291.6 Q1135,301.0 1142.5,301.0 Q1150,301.0 1150,291.6 L1150,280 Z" fill="#e8e8e8" fill-opacity="0.75" stroke="#555" stroke-width="1.3"/>
<ellipse cx="1142" cy="280" rx="10" ry="4" fill="#f0f0f0" stroke="#555" stroke-width="1.2"/>
<path d="M1288,162 L1288,179.6 Q1288,194.0 1296.5,194.0 Q1305,194.0 1305,179.6 L1305,162 Z" fill="#b4cfe3" fill-opacity="0.75" stroke="#4a6f88" stroke-width="1.3"/>
<path d="M1316,238 L1316,251.2 Q1316,262.0 1325.0,262.0 Q1334,262.0 1334,251.2 L1334,238 Z" fill="#b4cfe3" fill-opacity="0.75" stroke="#4a6f88" stroke-width="1.3"/>
<ellipse cx="1322" cy="238" rx="12" ry="4.2" fill="#c4dbec" stroke="#4a6f88" stroke-width="1.2"/>
<ellipse cx="1386" cy="214.5" rx="10" ry="5" fill="#b4cfe3" fill-opacity="0.8" stroke="#4a6f88" stroke-width="1.3"/>
<path d="M865.3,1153.5 L865.3,1141.4 Q865.3,1131.5 873.0,1131.5 Q880.8,1131.5 880.8,1141.4 L880.8,1153.5 Z" fill="#b4cfe3" fill-opacity="0.75" stroke="#4a6f88" stroke-width="1.3"/>
<path d="M910.3,1244 L910.3,1231.3 Q910.3,1221 919.0,1221 Q927.8,1221 927.8,1231.3 L927.8,1244 Z" fill="#b4cfe3" fill-opacity="0.75" stroke="#4a6f88" stroke-width="1.3"/>
<path d="M1036,1094 L1036,1081.9 Q1036,1072 1043.9,1072 Q1051.8,1072 1051.8,1081.9 L1051.8,1094 Z" fill="#e4e4e4" fill-opacity="0.75" stroke="#555" stroke-width="1.3"/>
<path d="M1307.4,1151 L1307.4,1138.9 Q1307.4,1129 1315.7,1129 Q1324.0,1129 1324.0,1138.9 L1324.0,1151 Z" fill="#b4cfe3" fill-opacity="0.75" stroke="#4a6f88" stroke-width="1.3"/>
<path d="M1274,1238 L1274,1224.8 Q1274,1214 1283.5,1214 Q1293,1214 1293,1224.8 L1293,1238 Z" fill="#b4cfe3" fill-opacity="0.75" stroke="#4a6f88" stroke-width="1.3"/>
<path d="M782.0,209.2 C784.2,207.0 791.0,199.5 795.5,195.9 C800.0,192.2 804.5,189.8 809.0,187.3 C813.5,184.8 818.0,182.7 822.5,180.6 C827.0,178.6 831.5,176.9 836.0,175.2 C840.5,173.5 845.0,171.9 849.5,170.5 C854.0,169.0 858.5,167.7 863.0,166.4 C867.5,165.1 872.0,163.9 876.5,162.8 C881.0,161.6 885.5,160.6 890.0,159.6 C894.5,158.6 899.0,157.6 903.5,156.7 C908.0,155.8 912.5,155.0 917.0,154.2 C921.5,153.4 926.0,152.6 930.5,151.9 C935.0,151.2 941.8,150.2 944.0,149.9 L944,160 C937.7,160.8 918.3,162.4 906.0,164.5 C893.7,166.6 881.0,169.7 870.0,172.5 C859.0,175.3 848.3,178.7 840.0,181.5 C831.7,184.3 826.7,186.2 820.0,189.5 C813.3,192.8 805.6,196.1 800.0,201.0 C794.4,205.9 788.8,216.0 786.5,219.0 Z" fill="#c8eefa"/>
<path d="M786.5,219.0 C788.8,216.0 794.4,205.9 800.0,201.0 C805.6,196.1 813.3,192.8 820.0,189.5 C826.7,186.2 831.7,184.3 840.0,181.5 C848.3,178.7 859.0,175.3 870.0,172.5 C881.0,169.7 893.7,166.6 906.0,164.5 C918.3,162.4 937.7,160.8 944.0,160.0" fill="none" stroke="#2a3a44" stroke-width="1.5"/>
<path d="M821.0,192.5 C824.3,191.2 832.7,187.3 841.0,184.5 C849.3,181.7 860.0,178.3 871.0,175.5 C882.0,172.7 894.7,169.6 907.0,167.5 C919.3,165.4 938.7,163.8 945.0,163.0" fill="none" stroke="#9aa8b0" stroke-width="1.6" stroke-dasharray="3,2"/>
<path d="M1271.0,154.4 C1273.1,154.8 1279.3,155.8 1283.5,156.6 C1287.7,157.4 1291.8,158.3 1296.0,159.1 C1300.2,160.0 1304.3,160.9 1308.5,161.9 C1312.7,162.8 1316.8,163.8 1321.0,164.9 C1325.2,166.0 1329.3,167.1 1333.5,168.2 C1337.7,169.4 1341.8,170.6 1346.0,172.0 C1350.2,173.3 1354.3,174.6 1358.5,176.1 C1362.7,177.6 1366.8,179.2 1371.0,180.9 C1375.2,182.6 1379.3,184.3 1383.5,186.3 C1387.7,188.3 1391.8,190.4 1396.0,192.9 C1400.2,195.4 1404.3,197.7 1408.5,201.2 C1412.7,204.6 1418.9,211.5 1421.0,213.6 L1416.5,224.5 C1414.2,222.8 1407.1,217.6 1403.0,214.5 C1398.9,211.4 1397.8,209.9 1392.0,206.0 C1386.2,202.1 1377.5,195.9 1368.0,191.0 C1358.5,186.1 1346.3,180.4 1335.0,176.5 C1323.7,172.6 1310.7,169.6 1300.0,167.5 C1289.3,165.4 1275.8,164.6 1271.0,164.0 Z" fill="#c8eefa"/>
<path d="M1271.0,164.0 C1275.8,164.6 1289.3,165.4 1300.0,167.5 C1310.7,169.6 1323.7,172.6 1335.0,176.5 C1346.3,180.4 1358.5,186.1 1368.0,191.0 C1377.5,195.9 1386.2,202.1 1392.0,206.0 C1397.8,209.9 1398.9,211.4 1403.0,214.5 C1407.1,217.6 1414.2,222.8 1416.5,224.5" fill="none" stroke="#2a3a44" stroke-width="1.5"/>
<path d="M1270.0,167.5 C1274.8,168.1 1288.3,168.9 1299.0,171.0 C1309.7,173.1 1322.7,176.1 1334.0,180.0 C1345.3,183.9 1357.5,189.6 1367.0,194.5 C1376.5,199.4 1387.0,207.0 1391.0,209.5" fill="none" stroke="#3d6a86" stroke-width="1.2"/>
<path d="M1270.5,165.8 C1275.3,166.4 1288.8,167.2 1299.5,169.3 C1310.2,171.4 1323.2,174.4 1334.5,178.3 C1345.8,182.2 1358.0,187.9 1367.5,192.8 C1377.0,197.7 1387.5,205.3 1391.5,207.8" fill="none" stroke="#f4fbff" stroke-width="1.3"/>
<polygon points="944,155 959.3,157 955.4,1248 938.7,1245" fill="#e6e6e6" stroke="#333" stroke-width="1.4"/>
<polygon points="944,155 947.5,155.5 942.2,1245.5 938.7,1245" fill="#c8c8c8"/>
<polygon points="1261.2,163.8 1271.1,163.8 1260.8,1248 1251.5,1248" fill="#e6e6e6" stroke="#333" stroke-width="1.4"/>
<path d="M938.6,1245.8 C948.8,1247.2 974.8,1252.0 1000.0,1254.0 C1025.2,1256.0 1065.0,1257.2 1090.0,1258.0 C1115.0,1258.8 1130.0,1259.9 1150.0,1258.6 C1170.0,1257.3 1191.7,1253.4 1210.0,1250.0 C1228.3,1246.6 1242.3,1243.2 1260.0,1238.0 C1277.7,1232.8 1298.5,1226.0 1316.0,1219.0 C1333.5,1212.0 1352.3,1202.8 1365.0,1196.0 C1377.7,1189.2 1384.3,1183.2 1392.0,1178.0 C1399.7,1172.8 1408.2,1167.2 1411.4,1165.0 L1411.4,1246 C1409.5,1250.3 1405.6,1263.3 1400.0,1272.0 C1394.4,1280.7 1386.3,1290.8 1378.0,1298.0 C1369.7,1305.2 1363.8,1308.7 1350.0,1315.0 C1336.2,1321.3 1318.0,1330.0 1295.0,1336.0 C1272.0,1342.0 1236.2,1347.3 1212.0,1351.0 C1187.8,1354.7 1170.3,1356.4 1150.0,1358.0 C1129.7,1359.6 1111.7,1360.7 1090.0,1360.7 C1068.3,1360.7 1041.8,1359.8 1020.0,1358.0 C998.2,1356.2 979.0,1354.3 959.0,1350.0 C939.0,1345.7 919.9,1339.5 900.0,1332.0 C880.1,1324.5 849.5,1309.5 839.4,1305.0 L839.4,1305 L938.6,1257 Z" fill="#ffffff"/>
<path d="M938.6,1245.8 C948.8,1247.2 974.8,1252.0 1000.0,1254.0 C1025.2,1256.0 1065.0,1257.2 1090.0,1258.0 C1115.0,1258.8 1130.0,1259.9 1150.0,1258.6 C1170.0,1257.3 1191.7,1253.4 1210.0,1250.0 C1228.3,1246.6 1242.3,1243.2 1260.0,1238.0 C1277.7,1232.8 1298.5,1226.0 1316.0,1219.0 C1333.5,1212.0 1352.3,1202.8 1365.0,1196.0 C1377.7,1189.2 1384.3,1183.2 1392.0,1178.0 C1399.7,1172.8 1408.2,1167.2 1411.4,1165.0" fill="none" stroke="#333" stroke-width="1.3"/>
<path d="M938.6,1252.8 C948.8,1254.2 974.8,1259.0 1000.0,1261.0 C1025.2,1263.0 1065.0,1264.2 1090.0,1265.0 C1115.0,1265.8 1130.0,1266.9 1150.0,1265.6 C1170.0,1264.3 1191.7,1260.4 1210.0,1257.0 C1228.3,1253.6 1242.3,1250.2 1260.0,1245.0 C1277.7,1239.8 1298.5,1233.0 1316.0,1226.0 C1333.5,1219.0 1352.3,1209.8 1365.0,1203.0 C1377.7,1196.2 1385.3,1189.3 1392.0,1185.0 C1398.7,1180.7 1402.8,1178.3 1405.0,1177.0" fill="none" stroke="#555" stroke-width="1.1"/>
<path d="M839.4,1305.0 C849.5,1309.5 880.1,1324.5 900.0,1332.0 C919.9,1339.5 939.0,1345.7 959.0,1350.0 C979.0,1354.3 998.2,1356.2 1020.0,1358.0 C1041.8,1359.8 1068.3,1360.7 1090.0,1360.7 C1111.7,1360.7 1129.7,1359.6 1150.0,1358.0 C1170.3,1356.4 1187.8,1354.7 1212.0,1351.0 C1236.2,1347.3 1272.0,1342.0 1295.0,1336.0 C1318.0,1330.0 1336.2,1321.3 1350.0,1315.0 C1363.8,1308.7 1369.7,1305.2 1378.0,1298.0 C1386.3,1290.8 1394.4,1280.7 1400.0,1272.0 C1405.6,1263.3 1409.5,1250.3 1411.4,1246.0" fill="none" stroke="#333" stroke-width="1.3"/>
<line x1="1411.4" y1="1165" x2="1411.4" y2="1246" stroke="#333" stroke-width="1.3"/>
<path d="M786.4,1180.5 C789.0,1181.2 793.6,1180.2 801.7,1184.5 C809.8,1188.8 819.8,1198.2 835.0,1206.0 C850.2,1213.8 875.7,1224.4 893.0,1231.0 C910.3,1237.6 931.1,1243.0 938.7,1245.4 L938.7,1245.4 L824.9,1294 C820.0,1290.6 810.2,1285.2 805.0,1281.0 C799.8,1276.8 795.0,1271.7 792.0,1267.0 C789.0,1262.3 787.8,1255.3 787.0,1253.0 Z" fill="#d3ebf9"/>
<path d="M786.4,1180.5 C789.0,1181.2 793.6,1180.2 801.7,1184.5 C809.8,1188.8 819.8,1198.2 835.0,1206.0 C850.2,1213.8 875.7,1224.4 893.0,1231.0 C910.3,1237.6 931.1,1243.0 938.7,1245.4" fill="none" stroke="#2f4555" stroke-width="1.3"/>
<path d="M787.0,1253.0 C787.8,1255.3 789.0,1262.3 792.0,1267.0 C795.0,1271.7 799.8,1276.8 805.0,1281.0 C810.2,1285.2 820.0,1290.6 823.0,1292.5" fill="none" stroke="#2f4555" stroke-width="1.1"/>
<line x1="786.4" y1="1176" x2="786.4" y2="1254" stroke="#2f4555" stroke-width="1"/>
<path d="M781.0,210.7 C782.3,209.2 786.3,203.9 789.0,201.3 C791.7,198.6 794.3,196.7 797.0,194.8 C799.7,192.8 802.3,191.2 805.0,189.6 C807.7,188.0 810.3,186.5 813.0,185.2 C815.7,183.8 818.3,182.5 821.0,181.3 C823.7,180.1 826.3,179.0 829.0,177.9 C831.7,176.8 834.3,175.8 837.0,174.8 C839.7,173.8 842.3,172.9 845.0,172.0 C847.7,171.0 850.3,170.2 853.0,169.4 C855.7,168.5 858.3,167.7 861.0,167.0 C863.7,166.2 866.3,165.4 869.0,164.7 C871.7,164.0 874.3,163.3 877.0,162.7 C879.7,162.0 882.3,161.3 885.0,160.7 C887.7,160.1 890.3,159.5 893.0,158.9 C895.7,158.3 898.3,157.8 901.0,157.2 C903.7,156.7 906.3,156.2 909.0,155.7 C911.7,155.2 914.3,154.7 917.0,154.2 C919.7,153.7 922.3,153.3 925.0,152.8 C927.7,152.4 930.3,151.9 933.0,151.5 C935.7,151.1 938.3,150.7 941.0,150.3 C943.7,149.9 946.3,149.6 949.0,149.2 C951.7,148.8 954.3,148.5 957.0,148.2 C959.7,147.8 962.3,147.5 965.0,147.2 C967.7,146.9 970.3,146.6 973.0,146.3 C975.7,146.0 978.3,145.7 981.0,145.5 C983.7,145.2 986.3,144.9 989.0,144.7 C991.7,144.5 994.3,144.2 997.0,144.0 C999.7,143.8 1002.3,143.6 1005.0,143.4 C1007.7,143.2 1010.3,143.0 1013.0,142.8 C1015.7,142.6 1018.3,142.4 1021.0,142.3 C1023.7,142.1 1026.3,142.0 1029.0,141.8 C1031.7,141.7 1034.3,141.5 1037.0,141.4 C1039.7,141.3 1042.3,141.2 1045.0,141.1 C1047.7,141.0 1050.3,140.9 1053.0,140.8 C1055.7,140.7 1058.3,140.6 1061.0,140.5 C1063.7,140.5 1066.3,140.4 1069.0,140.4 C1071.7,140.3 1074.3,140.3 1077.0,140.2 C1079.7,140.2 1082.3,140.2 1085.0,140.2 C1087.7,140.1 1090.3,140.1 1093.0,140.1 C1095.7,140.1 1098.3,140.2 1101.0,140.2 C1103.7,140.2 1106.3,140.2 1109.0,140.3 C1111.7,140.3 1114.3,140.3 1117.0,140.4 C1119.7,140.5 1122.3,140.5 1125.0,140.6 C1127.7,140.7 1130.3,140.8 1133.0,140.8 C1135.7,140.9 1138.3,141.0 1141.0,141.1 C1143.7,141.3 1146.3,141.4 1149.0,141.5 C1151.7,141.6 1154.3,141.8 1157.0,141.9 C1159.7,142.1 1162.3,142.2 1165.0,142.4 C1167.7,142.5 1170.3,142.7 1173.0,142.9 C1175.7,143.1 1178.3,143.3 1181.0,143.5 C1183.7,143.7 1186.3,143.9 1189.0,144.1 C1191.7,144.3 1194.3,144.6 1197.0,144.8 C1199.7,145.0 1202.3,145.3 1205.0,145.6 C1207.7,145.8 1210.3,146.1 1213.0,146.4 C1215.7,146.7 1218.3,147.0 1221.0,147.3 C1223.7,147.6 1226.3,147.9 1229.0,148.2 C1231.7,148.5 1234.3,148.9 1237.0,149.2 C1239.7,149.6 1242.3,149.9 1245.0,150.3 C1247.7,150.7 1250.3,151.1 1253.0,151.5 C1255.7,151.9 1258.3,152.3 1261.0,152.7 C1263.7,153.1 1266.3,153.6 1269.0,154.0 C1271.7,154.5 1274.3,155.0 1277.0,155.4 C1279.7,155.9 1282.3,156.4 1285.0,156.9 C1287.7,157.4 1290.3,158.0 1293.0,158.5 C1295.7,159.1 1298.3,159.6 1301.0,160.2 C1303.7,160.8 1306.3,161.4 1309.0,162.0 C1311.7,162.6 1314.3,163.2 1317.0,163.9 C1319.7,164.5 1322.3,165.2 1325.0,165.9 C1327.7,166.6 1330.3,167.3 1333.0,168.1 C1335.7,168.8 1338.3,169.6 1341.0,170.4 C1343.7,171.2 1346.3,172.0 1349.0,172.9 C1351.7,173.8 1354.3,174.7 1357.0,175.6 C1359.7,176.5 1362.3,177.5 1365.0,178.5 C1367.7,179.5 1370.3,180.6 1373.0,181.7 C1375.7,182.8 1378.3,183.9 1381.0,185.2 C1383.7,186.4 1386.3,187.7 1389.0,189.1 C1391.7,190.4 1394.3,191.9 1397.0,193.5 C1399.7,195.1 1402.3,196.7 1405.0,198.6 C1407.7,200.5 1410.4,202.5 1413.0,204.9 C1415.6,207.3 1419.2,211.6 1420.5,212.9" fill="none" stroke="#000" stroke-width="3.2"/>
<path d="M782,209.5 C777.5,212.5 778,218.5 786.5,219.3" fill="none" stroke="#000" stroke-width="2.6"/>
<path d="M1419.8,207.5 C1425.5,213 1426,222 1416.5,224.5" fill="none" stroke="#000" stroke-width="2.8"/>
<path d="M711.1,33.2 C717.2,37.6 735.0,50.7 748.0,59.7 C761.0,68.7 774.1,77.5 789.4,87.0 C804.7,96.5 823.2,108.1 840.0,116.6 C856.8,125.1 872.7,131.7 890.0,138.0 C907.3,144.3 934.7,151.9 943.6,154.7 L943.6,165.5 C934.7,163.1 907.3,156.4 890.0,151.0 C872.7,145.6 856.8,140.5 840.0,133.0 C823.2,125.5 804.7,115.2 789.4,106.0 C774.1,96.8 761.1,87.2 748.0,78.0 C734.9,68.8 717.2,55.2 711.0,50.6 Z" fill="#e6e6e6" stroke="#1a1a1a" stroke-width="1.8"/>
<path d="M711.8,1386.8 C719.8,1378.3 741.1,1351.5 760.0,1336.0 C778.9,1320.5 804.9,1305.3 824.9,1294.0 C844.9,1282.7 861.0,1276.1 880.0,1268.0 C899.0,1259.9 928.9,1249.2 938.7,1245.4 L938.7,1257 C930.6,1260.7 906.5,1271.0 890.0,1279.0 C873.5,1287.0 859.4,1293.1 839.4,1304.9 C819.4,1316.7 791.9,1332.1 770.0,1350.0 C748.1,1367.9 718.4,1401.8 708.1,1412.2 Z" fill="#e2e2e2" stroke="#1a1a1a" stroke-width="1.6"/>
<rect x="706" y="26" width="3.6" height="1375" fill="#ffffff"/>
<path d="M703.3,1398 L703.3,26" fill="none" stroke="#000" stroke-width="5.5" stroke-linecap="round"/>
<path d="M703.5,21.5 C707.5,21 710.2,24 710,29" fill="none" stroke="#000" stroke-width="1.6"/>
<rect x="692" y="640.4" width="9" height="13.2" fill="#f0f0f0" stroke="#333" stroke-width="1"/>
<rect x="692" y="810.6" width="9" height="10.1" fill="#f0f0f0" stroke="#333" stroke-width="1"/>
<rect x="711" y="640.4" width="27" height="13.2" fill="#b8d4e6" stroke="#445" stroke-width="1"/>
<rect x="711" y="810.6" width="27" height="10.1" fill="#b8d4e6" stroke="#445" stroke-width="1"/>
<ellipse cx="745" cy="646.6" rx="8" ry="9" fill="#d8d8d8" stroke="#222" stroke-width="1.8"/>
<ellipse cx="749" cy="646.6" rx="5" ry="6" fill="#f4f4f4" stroke="#222" stroke-width="1.4"/>
<ellipse cx="745" cy="815.5" rx="8" ry="9" fill="#d8d8d8" stroke="#222" stroke-width="1.8"/>
<ellipse cx="749" cy="815.5" rx="5" ry="6" fill="#f4f4f4" stroke="#222" stroke-width="1.4"/>
<rect x="675.1" y="618.6" width="17.1" height="224.6" fill="#d9d9d9" stroke="#222" stroke-width="1.4"/>
<rect x="675.8" y="652.8" width="15.7" height="155.4" fill="#8c8c8c" stroke="#222" stroke-width="1.2"/>
<line x1="614" y1="209.5" x2="781" y2="209.5" stroke="#000" stroke-width="2.2"/>
<line x1="614" y1="1252.5" x2="787" y2="1252.5" stroke="#000" stroke-width="2.2"/>
<line x1="627.5" y1="225" x2="627.5" y2="614" stroke="#000" stroke-width="2.4"/>
<line x1="627.5" y1="830" x2="627.5" y2="1238" stroke="#000" stroke-width="2.4"/>
<polygon points="627.5,210.5 635.0,238.5 620.0,238.5" fill="#000"/>
<polygon points="627.5,1251.5 620.0,1223.5 635.0,1223.5" fill="#000"/>
<text x="0" y="0" transform="translate(617,727.5) rotate(90)" text-anchor="middle" style="font-family:'Liberation Sans',sans-serif;font-size:36px" fill="#000">218 cm *1</text>
<line x1="1412" y1="209" x2="1492" y2="209" stroke="#000" stroke-width="2.2"/>
<line x1="1477.3" y1="225" x2="1477.3" y2="612" stroke="#000" stroke-width="2.4"/>
<line x1="1477.3" y1="830" x2="1477.3" y2="1160" stroke="#000" stroke-width="2.4"/>
<polygon points="1477.3,210.0 1484.8,238.0 1469.8,238.0" fill="#000"/>
<polygon points="1477.3,1171.0 1469.8,1143.0 1484.8,1143.0" fill="#000"/>
<text x="0" y="0" transform="translate(1467.5,738) rotate(90)" text-anchor="middle" style="font-family:'Liberation Sans',sans-serif;font-size:35px" fill="#000">200 cm</text>
<line x1="1412" y1="1172" x2="1487" y2="1172" stroke="#000" stroke-width="2.2"/>
<line x1="1412" y1="1246" x2="1487" y2="1246" stroke="#000" stroke-width="2.2"/>
<line x1="1477.3" y1="1172" x2="1477.3" y2="1246" stroke="#000" stroke-width="2.4"/>
<polygon points="1477.3,1173.0 1484.8,1199.0 1469.8,1199.0" fill="#000"/>
<polygon points="1477.3,1245.0 1469.8,1219.0 1484.8,1219.0" fill="#000"/>
<text x="1499" y="1219.5" style="font-family:'Liberation Sans',sans-serif;font-size:35px" fill="#000">18 cm</text>
<line x1="795" y1="1392" x2="795" y2="1540" stroke="#000" stroke-width="2.2"/>
<line x1="1417.5" y1="1392" x2="1417.5" y2="1704" stroke="#000" stroke-width="2.2"/>
<line x1="810" y1="1423" x2="963" y2="1423" stroke="#000" stroke-width="2.2"/>
<line x1="1250" y1="1423" x2="1403" y2="1423" stroke="#000" stroke-width="2.2"/>
<polygon points="796.0,1423.0 824.0,1415.5 824.0,1430.5" fill="#000"/>
<polygon points="1416.5,1423.0 1388.5,1430.5 1388.5,1415.5" fill="#000"/>
<text x="1106" y="1431.6" text-anchor="middle" style="font-family:'Liberation Sans',sans-serif;font-size:35px" fill="#000">90 / 100 cm</text>
<line x1="1388.4" y1="1465" x2="1388.4" y2="1533" stroke="#808080" stroke-width="1.6"/>
<line x1="810" y1="1488" x2="963" y2="1488" stroke="#808080" stroke-width="2"/>
<line x1="1250" y1="1488" x2="1375" y2="1488" stroke="#808080" stroke-width="2"/>
<polygon points="798.4,1488.0 826.4,1480.5 826.4,1495.5" fill="#808080"/>
<polygon points="1387.5,1488.0 1359.5,1495.5 1359.5,1480.5" fill="#808080"/>
<text x="1111" y="1495.6" text-anchor="middle" style="font-family:'Liberation Sans',sans-serif;font-size:35px" fill="#808080">85,5 / 95 cm</text>
<line x1="657.5" y1="1528.4" x2="806" y2="1528.4" stroke="#000" stroke-width="2.4"/>
<line x1="657" y1="2152" x2="972.6" y2="2152" stroke="#000" stroke-width="2.6"/>
<line x1="695.75" y1="1545" x2="695.75" y2="1668" stroke="#000" stroke-width="2.4"/>
<line x1="695.75" y1="1958" x2="695.75" y2="2135" stroke="#000" stroke-width="2.4"/>
<polygon points="695.8,1529.7 703.2,1557.7 688.2,1557.7" fill="#000"/>
<polygon points="695.8,2151.5 688.2,2123.5 703.2,2123.5" fill="#000"/>
<text x="0" y="0" transform="translate(707.5,1813) rotate(-90)" text-anchor="middle" style="font-family:'Liberation Sans',sans-serif;font-size:35px" fill="#000">90 / 100 cm</text>
<line x1="760.2" y1="1545" x2="760.2" y2="1668" stroke="#808080" stroke-width="2"/>
<line x1="760.2" y1="1958" x2="760.2" y2="2105" stroke="#808080" stroke-width="2"/>
<line x1="747" y1="2122" x2="798" y2="2122" stroke="#808080" stroke-width="1.6"/>
<polygon points="760.2,1531.6 767.7,1559.6 752.7,1559.6" fill="#808080"/>
<polygon points="760.2,2121.0 752.7,2093.0 767.7,2093.0" fill="#808080"/>
<text x="0" y="0" transform="translate(772,1808) rotate(-90)" text-anchor="middle" style="font-family:'Liberation Sans',sans-serif;font-size:35px" fill="#808080">85,5 / 95 cm</text>
<line x1="812" y1="2107" x2="965" y2="1943" stroke="#000" stroke-width="2.4"/>
<line x1="1190" y1="1715" x2="1365" y2="1540" stroke="#000" stroke-width="2.4"/>
<polygon points="1378.5,1527.0 1364.3,1552.3 1353.6,1541.8" fill="#000"/>
<polygon points="797.5,2120.5 811.7,2095.2 822.4,2105.7" fill="#000"/>
<text x="0" y="0" transform="translate(1091.5,1837) rotate(-45.61)" text-anchor="middle" style="font-family:'Liberation Sans',sans-serif;font-size:35px" fill="#000">120 / 132 cm</text>
<text x="1681.5" y="2103.3" style="font-family:'Liberation Sans',sans-serif;font-size:63px" fill="#f20c0c">S1</text>
</svg>
</body></html>
